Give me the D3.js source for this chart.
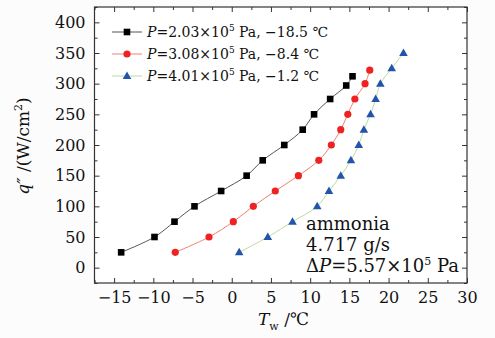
<!DOCTYPE html>
<html>
<head>
<meta charset="utf-8">
<script src="https://cdn.jsdelivr.net/npm/d3@7"></script>
<style>
  body { margin: 0; background: #fcfcfc; }
  svg { display: block; }
  text { font-family: "DejaVu Serif", "Liberation Serif", serif; fill: #111; }
</style>
</head>
<body>
<svg id="chart" width="495" height="338"></svg>
<script>
// q'' (W/cm^2) vs wall temperature Tw (degC)
const lowTw = [-14.1, -9.85, -7.3, -4.75, -1.35, 1.9, 3.95, 6.7, 9.05, 10.5, 12.55, 14.6, 15.4];
const lowQ = [25, 50, 75, 100, 125, 150, 175, 200, 225, 250, 275, 297, 312];
const midTw = [-7.2, -2.9, 0.2, 2.75, 5.55, 8.5, 11.1, 12.7, 13.9, 14.8, 15.7, 17.0, 17.6];
const midQ = [25, 50, 75, 100, 125, 150, 175, 200, 225, 250, 275, 300, 322];
const highTw = [0.95, 4.6, 7.75, 10.9, 12.4, 13.9, 15.2, 16.2, 16.85, 17.7, 18.35, 18.95, 20.4, 21.9];
const highQ = [25, 50, 75, 100, 125, 150, 175, 200, 225, 250, 275, 300, 325, 350];

const xTicks = [-15, -10, -5, 0, 5, 10, 15, 20, 25, 30];
const yTicks = [0, 50, 100, 150, 200, 250, 300, 350, 400];

const series = [
    { name: ['2.03', '−18.5'], tw: lowTw, q: lowQ, marker: 'square', fill: '#000000', line: '#555555' },
    { name: ['3.08', '−8.4'], tw: midTw, q: midQ, marker: 'circle', fill: '#ee2222', line: '#f08070' },
    { name: ['4.01', '−1.2'], tw: highTw, q: highQ, marker: 'triangle', fill: '#2255aa', line: '#b8dca0' }
];

const svg = d3.select('#chart');
const margin = { left: 94.5, right: 28, top: 7, bottom: 55 };
const width = 495 - margin.left - margin.right;
const height = 338 - margin.top - margin.bottom;

const x = d3.scaleLinear().domain([-17.5, 30]).range([0, width]);
const y = d3.scaleLinear().domain([-25, 425]).range([height, 0]);

const g = svg.append('g').attr('transform', `translate(${margin.left},${margin.top})`);

g.append('rect')
    .attr('width', width).attr('height', height)
    .attr('fill', '#ffffff');

// ticks, pointing inward on all four sides
function tickAxis(axis, transform) {
    const a = g.append('g').attr('transform', transform).call(axis);
    a.select('.domain').remove();
    a.selectAll('line').attr('stroke', '#333').attr('stroke-width', 1);
    return a;
}
const xMinor = d3.range(-17.5, 30.01, 2.5).filter(v => v % 5 !== 0);
const yMinor = d3.range(-25, 425.1, 25).filter(v => v % 50 !== 0);

const xb = tickAxis(d3.axisBottom(x).tickValues(xTicks).tickSizeInner(-5).tickSizeOuter(0).tickPadding(9)
    .tickFormat(d => d < 0 ? '−' + Math.abs(d) : d), `translate(0,${height})`);
xb.selectAll('text').attr('font-size', 16);
tickAxis(d3.axisBottom(x).tickValues(xMinor).tickSize(-3).tickFormat(''), `translate(0,${height})`);
tickAxis(d3.axisTop(x).tickValues(xTicks).tickSize(-5).tickFormat(''), 'translate(0,0)');
tickAxis(d3.axisTop(x).tickValues(xMinor).tickSize(-3).tickFormat(''), 'translate(0,0)');

const yl = tickAxis(d3.axisLeft(y).tickValues(yTicks).tickSizeInner(-5).tickSizeOuter(0).tickPadding(9), 'translate(0,0)');
yl.selectAll('text').attr('font-size', 16);
tickAxis(d3.axisLeft(y).tickValues(yMinor).tickSize(-3).tickFormat(''), 'translate(0,0)');
tickAxis(d3.axisRight(y).tickValues(yTicks).tickSize(-5).tickFormat(''), `translate(${width},0)`);
tickAxis(d3.axisRight(y).tickValues(yMinor).tickSize(-3).tickFormat(''), `translate(${width},0)`);

g.append('rect')
    .attr('width', width).attr('height', height)
    .attr('fill', 'none').attr('stroke', '#333').attr('stroke-width', 1.2);

// curves and markers
const line = d3.line().curve(d3.curveCatmullRom.alpha(0.5));

function drawMarker(sel, type, color, cx, cy) {
    if (type === 'square') {
        sel.append('rect').attr('x', cx - 3.3).attr('y', cy - 3.3).attr('width', 6.6).attr('height', 6.6).attr('fill', color);
    } else if (type === 'circle') {
        sel.append('circle').attr('cx', cx).attr('cy', cy).attr('r', 3.6).attr('fill', color);
    } else {
        sel.append('path').attr('d', `M${cx},${cy - 4.5}L${cx + 4.3},${cy + 3}L${cx - 4.3},${cy + 3}Z`).attr('fill', color);
    }
}

series.forEach(s => {
    const pts = s.tw.map((t, i) => [x(t), y(s.q[i])]);
    g.append('path').attr('d', line(pts)).attr('fill', 'none').attr('stroke', s.line).attr('stroke-width', 1);
    const mg = g.append('g');
    pts.forEach(p => drawMarker(mg, s.marker, s.fill, p[0], p[1]));
});

// legend
const legend = svg.append('g');
series.forEach((s, i) => {
    const ly = 32 + i * 22;
    legend.append('line').attr('x1', 112).attr('x2', 142).attr('y1', ly).attr('y2', ly)
        .attr('stroke', s.line).attr('stroke-width', 1);
    drawMarker(legend, s.marker, s.fill, 127, ly);
    const t = legend.append('text').attr('x', 147).attr('y', ly + 5).attr('font-size', 14);
    t.append('tspan').attr('font-style', 'italic').text('P');
    t.append('tspan').text('=' + s.name[0] + '×10');
    t.append('tspan').attr('font-size', 9).attr('dy', -6).text('5');
    t.append('tspan').attr('dy', 6).text(' Pa, ' + s.name[1] + ' ℃');
});

// annotation
const note = svg.append('g').attr('font-size', 18);
note.append('text').attr('x', 306).attr('y', 230).text('ammonia');
note.append('text').attr('x', 306).attr('y', 251).text('4.717 g/s');
const dp = note.append('text').attr('x', 306).attr('y', 272);
dp.append('tspan').text('Δ');
dp.append('tspan').attr('font-style', 'italic').text('P');
dp.append('tspan').text('=5.57×10');
dp.append('tspan').attr('font-size', 11).attr('dy', -7).text('5');
dp.append('tspan').attr('dy', 7).text(' Pa');

// axis titles
const xt = svg.append('text').attr('x', 258).attr('y', 325).attr('font-size', 17);
xt.append('tspan').attr('font-style', 'italic').text('T');
xt.append('tspan').attr('font-size', 11).attr('dy', 5).text('w');
xt.append('tspan').attr('dy', -5).text(' /℃');

const yt = svg.append('text').attr('transform', 'translate(29,146) rotate(-90)')
    .attr('text-anchor', 'middle').attr('font-size', 17);
yt.append('tspan').attr('font-style', 'italic').text('q″');
yt.append('tspan').text(' /(W/cm');
yt.append('tspan').attr('font-size', 11).attr('dy', -7).text('2');
yt.append('tspan').attr('dy', 7).text(')');
</script>
</body>
</html>
